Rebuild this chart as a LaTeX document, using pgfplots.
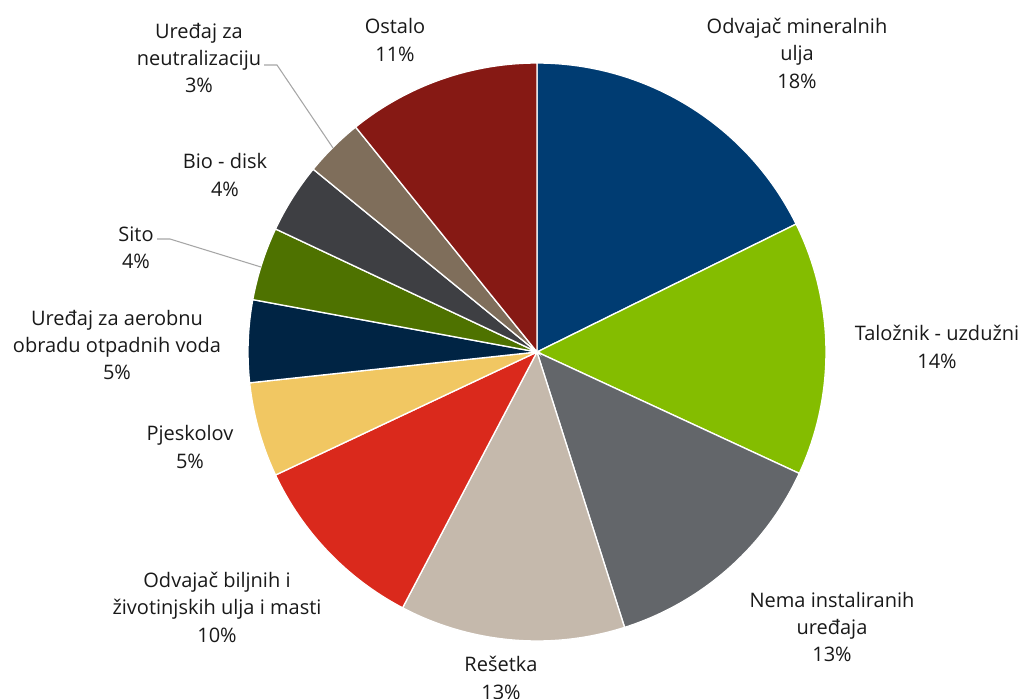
\documentclass[border=0pt]{standalone}
\usepackage{pgfplots}
\pgfplotsset{compat=1.18}
\usepackage{pgfplotstable}
\usepackage{fontspec}
\setmainfont{Open Sans}

\definecolor{c1}{RGB}{0,60,114}
\definecolor{c2}{RGB}{132,189,0}
\definecolor{c3}{RGB}{99,102,106}
\definecolor{c4}{RGB}{197,185,172}
\definecolor{c5}{RGB}{218,41,28}
\definecolor{c6}{RGB}{241,199,98}
\definecolor{c7}{RGB}{0,36,68}
\definecolor{c8}{RGB}{78,114,0}
\definecolor{c9}{RGB}{62,63,67}
\definecolor{c10}{RGB}{127,110,91}
\definecolor{c11}{RGB}{134,25,20}
\definecolor{leader}{RGB}{166,166,166}

\tikzset{lbl/.style={font=\fontsize{15pt}{20.6pt}\selectfont, align=center, text=black!90, inner sep=0pt}}

\pgfplotstableread{
value color
17.7 c1
14.2 c2
13.2 c3
12.6 c4
10.3 c5
5.3 c6
4.6 c7
4.1 c8
3.9 c9
3.3 c10
10.8 c11
}\piedata

\begin{document}
\begin{tikzpicture}
\begin{axis}[scale only axis, width=765.75pt, height=524.25pt,
  xmin=0, xmax=1021, ymin=0, ymax=699, y dir=reverse,
  hide axis, clip=false]
\pgfplotsextra{%
  \xdef\curangle{90}%
  \foreach \i in {0,...,10}{%
    \pgfplotstablegetelem{\i}{value}\of\piedata \let\slicevalue\pgfplotsretval
    \pgfplotstablegetelem{\i}{color}\of\piedata \let\slicecolor\pgfplotsretval
    \pgfmathsetmacro\nextangle{\curangle-3.6*\slicevalue}%
    \fill[fill=\slicecolor, draw=white, line width=1pt] (axis cs:537,352) -- ++(\curangle:216.75pt) arc[start angle=\curangle, end angle=\nextangle, radius=216.75pt] -- cycle;
    \xdef\curangle{\nextangle}%
  }%
  \draw[leader, line width=0.8pt] (axis cs:264,65) -- (axis cs:277,65) -- (axis cs:333,148);
  \draw[leader, line width=0.8pt] (axis cs:157,239) -- (axis cs:170,239) -- (axis cs:261,267);
}
\node[lbl] at (axis cs:797,53) {Odvajač mineralnih\\ulja\\18\%};
\node[lbl] at (axis cs:937,347) {Taložnik - uzdužni\\14\%};
\node[lbl] at (axis cs:832,627) {Nema instaliranih\\uređaja\\13\%};
\node[lbl] at (axis cs:501,678) {Rešetka\\13\%};
\node[lbl] at (axis cs:217,607) {Odvajač biljnih i\\životinjskih ulja i masti\\10\%};
\node[lbl] at (axis cs:190,447) {Pjeskolov\\5\%};
\node[lbl] at (axis cs:117,345) {Uređaj za aerobnu\\obradu otpadnih voda\\5\%};
\node[lbl] at (axis cs:136,248) {Sito\\4\%};
\node[lbl] at (axis cs:225,175) {Bio - disk\\4\%};
\node[lbl] at (axis cs:199,58) {Uređaj za\\neutralizaciju\\3\%};
\node[lbl] at (axis cs:395,40) {Ostalo\\11\%};
\end{axis}
\pgfresetboundingbox
\path (current axis.south west) rectangle (current axis.north east);
\end{tikzpicture}
\end{document}
